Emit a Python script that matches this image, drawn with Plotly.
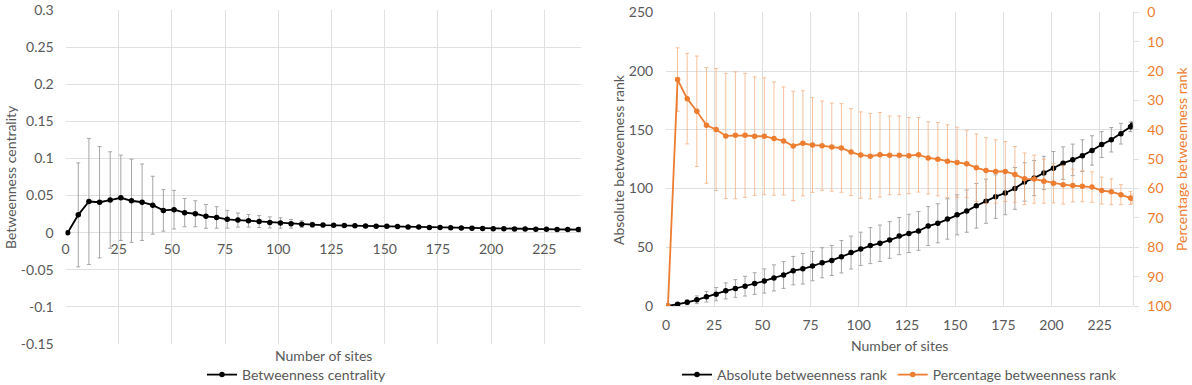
import plotly.graph_objects as go

# ---------------- data ----------------
sites = [1, 6, 11, 16, 21, 26, 31, 36, 41, 46,
         51, 56, 61, 66, 71, 76, 81, 86, 91, 96,
         101, 106, 111, 116, 121, 126, 131, 136, 141, 146,
         151, 156, 161, 166, 171, 176, 181, 186, 191, 196,
         201, 206, 211, 216, 221, 226, 231, 236, 241, 242]

betweenness_mean = [0, 0.024, 0.042, 0.041, 0.044, 0.047, 0.043, 0.041, 0.037, 0.030,
                    0.031, 0.027, 0.0255, 0.022, 0.0205, 0.018, 0.017, 0.016, 0.015, 0.0138,
                    0.013, 0.012, 0.0115, 0.0108, 0.0102, 0.0099, 0.0096, 0.0093, 0.009, 0.0088,
                    0.0085, 0.0082, 0.0078, 0.0075, 0.0071, 0.0068, 0.0065, 0.0062, 0.006, 0.0057,
                    0.0054, 0.0052, 0.005, 0.0049, 0.0047, 0.0046, 0.0044, 0.0043, 0.0042, 0.0041]
betweenness_sd = [0, 0.070, 0.085, 0.075, 0.065, 0.0575, 0.056, 0.0515, 0.039, 0.028,
                  0.026, 0.019, 0.0175, 0.016, 0.0145, 0.012, 0.0095, 0.0085, 0.008, 0.0075,
                  0.007, 0.0058, 0.0045, 0.0032, 0.0022, 0.0015, 0.0012, 0.001, 0.0009, 0.0008,
                  0.0007, 0.0007, 0.0006, 0.0006, 0.0005, 0.0005, 0.0005, 0.0004, 0.0004, 0.0004,
                  0.0003, 0.0003, 0.0003, 0.0003, 0.0003, 0.0002, 0.0002, 0.0002, 0.0002, 0.0002]

abs_rank_mean = [0, 1.4, 3.1, 5.3, 7.9, 10.1, 12.9, 14.9, 16.9, 19.1,
                 21.3, 23.9, 26.4, 30.1, 31.7, 34.0, 36.8, 38.8, 41.9, 45.5,
                 48.6, 51.4, 53.4, 56.2, 59.5, 61.8, 63.9, 68.0, 70.4, 74.1,
                 77.6, 80.8, 85.3, 89.2, 93.1, 96.2, 100.1, 105.6, 108.9, 113.2,
                 117.3, 121.6, 124.4, 128.0, 132.4, 137.4, 141.5, 146.7, 152.5, 154.0]
abs_rank_sd = [0, 0.8, 2.0, 3.3, 4.5, 5.7, 6.8, 7.5, 8.4, 9.2,
               10.3, 11.1, 11.4, 12.1, 13.0, 12.5, 12.8, 12.8, 13.8, 14.0,
               14.2, 15.3, 15.5, 15.6, 15.8, 16.3, 16.5, 16.6, 16.6, 17.2,
               17.0, 18.0, 19.0, 18.8, 18.5, 18.5, 17.8, 16.3, 15.0, 14.2,
               14.2, 13.8, 13.4, 13.5, 12.5, 11.0, 10.4, 8.8, 4.0, 3.0]

pct_rank_mean = [100, 22.9, 29.4, 33.7, 38.5, 39.9, 42.1, 41.9, 41.9, 42.2,
                 42.2, 43.0, 43.8, 45.5, 44.6, 45.2, 45.4, 45.9, 46.2, 47.6,
                 48.6, 49.0, 48.5, 48.7, 48.7, 48.8, 48.5, 49.6, 50.0, 50.7,
                 51.1, 51.6, 52.9, 53.9, 54.2, 54.2, 55.2, 56.7, 56.8, 57.5,
                 58.2, 58.7, 59.0, 59.2, 59.5, 60.7, 61.1, 62.1, 63.2, 63.5]
pct_rank_sd = [0, 10.8, 15.4, 18.8, 19.7, 20.8, 21.3, 21.6, 21.1, 20.2,
               19.9, 19.3, 18.4, 18.6, 17.9, 16.1, 15.2, 15.0, 15.1, 14.8,
               14.7, 14.5, 14.4, 13.4, 13.4, 13.0, 12.7, 12.3, 12.5, 12.4,
               12.0, 11.5, 11.5, 11.2, 10.8, 10.2, 9.5, 8.8, 8.2, 7.5,
               6.7, 6.6, 5.6, 5.3, 5.2, 4.6, 4.4, 3.4, 2.2, 1.7]

x_ticks = [0, 25, 50, 75, 100, 125, 150, 175, 200, 225]
left_y_ticks = [-0.15, -0.1, -0.05, 0, 0.05, 0.1, 0.15, 0.2, 0.25, 0.3]
left_y_labels = ["-0.15", "-0.1", "-0.05", "0", "0.05", "0.1", "0.15", "0.2", "0.25", "0.3"]
abs_ticks = [0, 50, 100, 150, 200, 250]
pct_ticks = [0, 10, 20, 30, 40, 50, 60, 70, 80, 90, 100]

# ---------------- style ----------------
W, H = 1192, 385
FONT = "Lato"
FS = 14
GREY = "#595959"
GRID = "#E0E0E0"
ORANGE = "#ED7D31"

def fx(p):
    return p / W

def fy(p):
    return 1 - p / H

left_ydom = [fy(344), fy(10)]
zero_pos = left_ydom[0] + (left_ydom[1] - left_ydom[0]) * (0.15 / 0.45)

fig = go.Figure()

fig.add_trace(go.Scatter(
    x=sites, y=betweenness_mean, name="Betweenness centrality",
    mode="lines+markers", line=dict(color="black", width=1.8),
    marker=dict(size=5.5, color="black"),
    error_y=dict(type="data", array=betweenness_sd, color="#A6A6A6", thickness=1, width=2),
    xaxis="x", yaxis="y", legend="legend"))

fig.add_trace(go.Scatter(
    x=sites, y=abs_rank_mean, name="Absolute betweenness rank",
    mode="lines+markers", line=dict(color="black", width=1.8),
    marker=dict(size=5.5, color="black"),
    error_y=dict(type="data", array=abs_rank_sd, color="#A6A6A6", thickness=1, width=2),
    xaxis="x2", yaxis="y2", legend="legend2"))

fig.add_trace(go.Scatter(
    x=sites, y=pct_rank_mean, name="Percentage betweenness rank",
    mode="lines+markers", line=dict(color=ORANGE, width=1.8),
    marker=dict(size=5.5, color=ORANGE),
    error_y=dict(type="data", array=pct_rank_sd, color="rgba(244,177,131,0.8)", thickness=1, width=2),
    xaxis="x2", yaxis="y3", legend="legend2"))

tickfont = dict(family=FONT, size=FS, color=GREY)
common_x = dict(range=[0, 242], tickvals=x_ticks, showgrid=True, gridcolor=GRID, gridwidth=1,
                zeroline=False, showline=False, ticks="outside", automargin=False,
                tickcolor="rgba(0,0,0,0)", tickfont=tickfont)

fig.update_layout(
    template="none",
    width=W, height=H,
    margin=dict(l=0, r=0, t=0, b=0, autoexpand=False),
    paper_bgcolor="white", plot_bgcolor="white",
    font=dict(family=FONT, size=FS, color=GREY),
    xaxis=dict(domain=[fx(65.5), fx(580.5)], anchor="free", position=zero_pos, ticklen=4, **common_x),
    yaxis=dict(domain=left_ydom, range=[-0.15, 0.3], tickvals=left_y_ticks, ticktext=left_y_labels,
               showgrid=True, gridcolor=GRID, zeroline=True, zerolinecolor=GRID, zerolinewidth=1,
               showline=False, ticks="outside", ticklen=8, tickcolor="rgba(0,0,0,0)",
               tickfont=tickfont, anchor="x", automargin=False),
    xaxis2=dict(domain=[fx(666), fx(1132.5)], anchor="y2", ticklen=6, **common_x),
    yaxis2=dict(domain=[fy(306), fy(12.3)], range=[0, 250], tickvals=abs_ticks,
                showgrid=True, gridcolor=GRID, zeroline=True, zerolinecolor=GRID,
                showline=False, ticks="outside", ticklen=9, tickcolor="rgba(0,0,0,0)",
                tickfont=tickfont, anchor="x2", automargin=False),
    yaxis3=dict(overlaying="y2", side="right", anchor="x2", range=[100, 0], tickvals=pct_ticks,
                showgrid=False, zeroline=False, showline=True, linecolor=GRID, linewidth=1,
                ticks="outside", ticklen=5, tickcolor=GRID, ticklabelstandoff=6, automargin=False,
                tickfont=dict(family=FONT, size=FS, color=ORANGE)),
    legend=dict(orientation="h", x=fx(297), xanchor="center", y=fy(375), yanchor="middle",
                font=dict(family=FONT, size=FS, color=GREY), bgcolor="rgba(0,0,0,0)"),
    legend2=dict(orientation="h", x=fx(900), xanchor="center", y=fy(375), yanchor="middle",
                 font=dict(family=FONT, size=FS, color=GREY), bgcolor="rgba(0,0,0,0)"),
    showlegend=True,
)

title_font = dict(family=FONT, size=FS, color=GREY)
fig.add_annotation(text="Number of sites", x=fx(323), y=fy(355), xref="paper", yref="paper",
                   showarrow=False, font=title_font, xanchor="center", yanchor="middle")
fig.add_annotation(text="Betweenness centrality", x=fx(10), y=fy(177), xref="paper", yref="paper",
                   showarrow=False, font=title_font, textangle=-90, xanchor="center", yanchor="middle")
fig.add_annotation(text="Number of sites", x=fx(899), y=fy(345), xref="paper", yref="paper",
                   showarrow=False, font=title_font, xanchor="center", yanchor="middle")
fig.add_annotation(text="Absolute betweenness rank", x=fx(618), y=fy(159), xref="paper", yref="paper",
                   showarrow=False, font=title_font, textangle=-90, xanchor="center", yanchor="middle")
fig.add_annotation(text="Percentage betweenness rank", x=fx(1181), y=fy(159), xref="paper", yref="paper",
                   showarrow=False, font=dict(family=FONT, size=FS, color=ORANGE), textangle=-90,
                   xanchor="center", yanchor="middle")

fig.write_html("out.html", config={"displayModeBar": False},
               post_script="document.body.style.margin='0';")
